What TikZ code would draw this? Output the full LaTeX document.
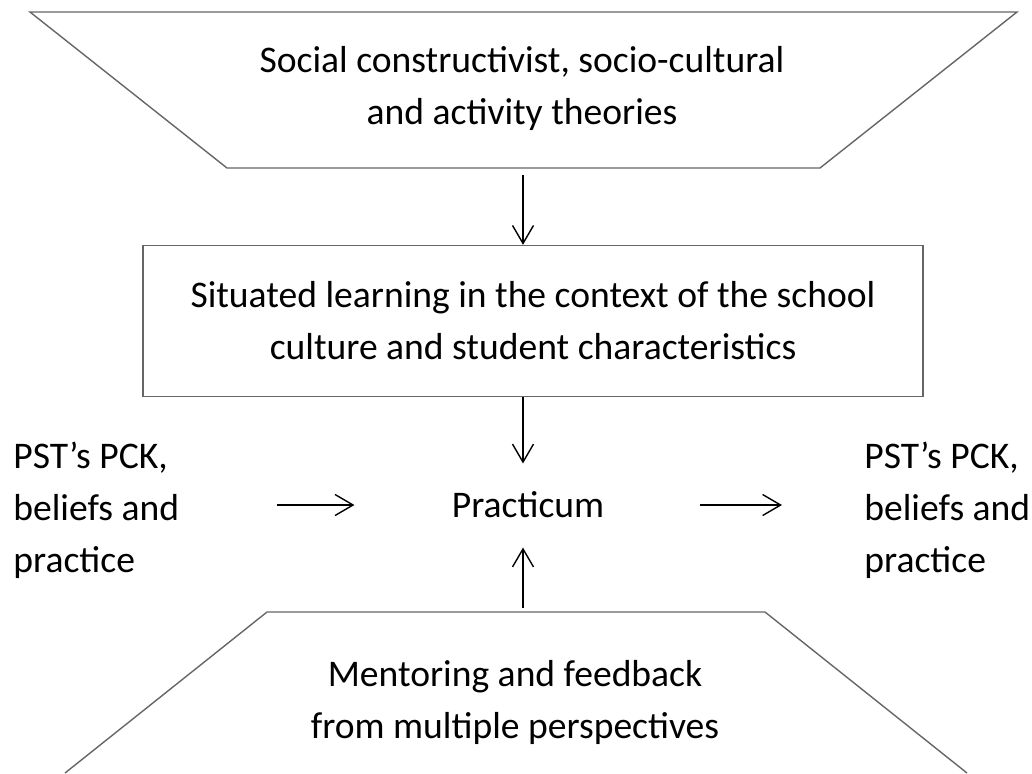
\documentclass[tikz,border=0pt]{standalone}
\usepackage{fontspec}
\setmainfont{Carlito}
\usepackage{tikz}
\usetikzlibrary{arrows.meta}

\begin{document}
\begin{tikzpicture}[
  x=0.5pt, y=-0.5pt,
  every node/.style={font=\fontsize{18.8}{26}\selectfont, inner sep=0pt},
  frame/.style={draw=black!60, line width=0.7pt},
  link/.style={-{Straight Barb[length=9pt,width=10.5pt]}, line width=0.7pt}
]
  \useasboundingbox (0,0) rectangle (1032,773);
  \draw[frame] (30,12) -- (1017,12) -- (820,168) -- (227,168) -- cycle;
  \draw[frame] (65,773) -- (267,612) -- (765,612) -- (967,773);
  \coordinate (tb) at (523,168);
  \coordinate (mt) at (523,612);
  \node[align=center, anchor=north] (theory) at (522,46)
    {Social constructivist, socio-cultural\\and activity theories};
  \node[frame, align=center, minimum width=390pt, minimum height=75.5pt] (situated) at (533,321)
    {Situated learning in the context of the school\\culture and student characteristics};
  \node (practicum) at (528,505) {Practicum};
  \node[align=center, anchor=north] (mentor) at (515,660)
    {Mentoring and feedback\\from multiple perspectives};
  \node[align=left, anchor=north west] (pstin) at (13,442)
    {PST’s PCK,\\beliefs and\\practice};
  \node[align=left, anchor=north west] (pstout) at (864,442)
    {PST’s PCK,\\beliefs and\\practice};
  \draw[link, shorten <=3.5pt] (tb) -- (tb |- situated.north);
  \draw[link, shorten >=14pt] (tb |- situated.south) -- (tb |- practicum.north);
  \draw[link, shorten <=2pt, shorten >=14.5pt] (mt) -- (mt |- practicum.south);
  \draw[link, shorten <=48.5pt, shorten >=48.5pt] (pstin.east |- practicum) -- (practicum.west);
  \draw[link, shorten <=47.5pt, shorten >=41pt] (practicum.east) -- (pstout.west |- practicum);
\end{tikzpicture}
\end{document}
